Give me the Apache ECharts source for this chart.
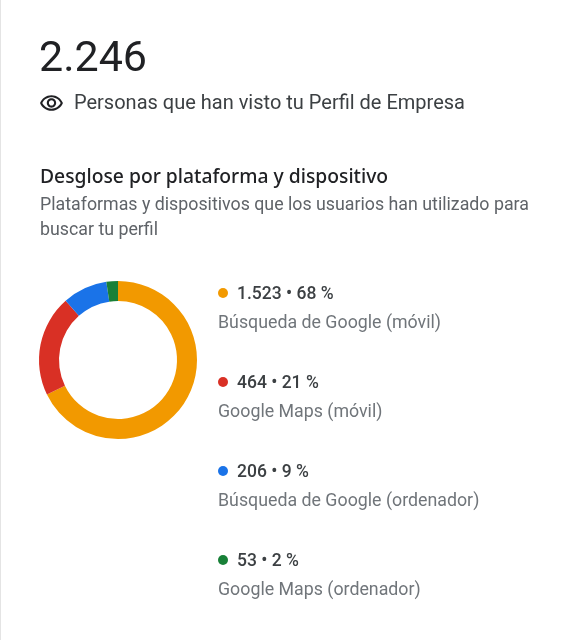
<!DOCTYPE html>
<html>
<head>
<meta charset="utf-8">
<style>html,body{margin:0;padding:0;background:#fff}</style>
<script src="https://cdn.jsdelivr.net/npm/echarts@6/dist/echarts.min.js"></script>
</head>
<body>
<div id="main" style="width:587px;height:640px;"></div>
<script type="text/javascript">
    // datos
    var categories = ['Búsqueda de Google (móvil)', 'Google Maps (móvil)', 'Búsqueda de Google (ordenador)', 'Google Maps (ordenador)'];
    var values = [1523, 464, 206, 53];
    var percents = ['68 %', '21 %', '9 %', '2 %'];
    var valueLabels = ['1.523', '464', '206', '53'];
    var colors = ['#F29900', '#D93025', '#1A73E8', '#188038'];
    var total = '2.246';

    var myChart = echarts.init(document.getElementById('main'), null, {renderer: 'canvas'});

    var eye = 'M12 6c3.79 0 7.17 2.13 8.82 5.5C19.17 14.87 15.79 17 12 17s-7.17-2.13-8.82-5.5C4.83 8.13 8.21 6 12 6m0-2C7 4 2.73 7.11 1 11.5 2.73 15.89 7 19 12 19s9.27-3.11 11-7.5C21.27 7.11 17 4 12 4zm0 5c1.38 0 2.5 1.12 2.5 2.5S13.38 14 12 14s-2.5-1.12-2.5-2.5S10.62 9 12 9m0-2c-2.48 0-4.5 2.02-4.5 4.5S9.52 16 12 16s4.5-2.02 4.5-4.5S14.48 7 12 7z';
    // el componente graphic no acepta type:'path' directamente
    echarts.graphic.registerShape('eyeIcon', echarts.graphic.extendPath(eye, {}));

    function txt(x, y, text, size, color, weight, family) {
        return {
            type: 'text', x: x, y: y, silent: true,
            style: {
                text: text, fontFamily: family || 'Roboto', fontSize: size, fontWeight: weight || 400,
                fill: color, textVerticalAlign: 'middle', textAlign: 'left'
            }
        };
    }

    var elements = [
        // borde lateral
        {type: 'rect', shape: {x: 0, y: 0, width: 1, height: 640}, style: {fill: '#e4e4e4'}},
        txt(39, 60, total, 43, '#202124'),
        {type: 'eyeIcon', x: 39, y: 91, scaleX: 1.04, scaleY: 1.04, style: {fill: '#202124'}},
        txt(74, 104, 'Personas que han visto tu Perfil de Empresa', 20, '#3c4043'),
        txt(40, 178, 'Desglose por plataforma y dispositivo', 19.3, '#202124', 500, 'Noto Sans'),
        txt(40, 206, 'Plataformas y dispositivos que los usuarios han utilizado para', 17.8, '#5f6368'),
        txt(40, 231, 'buscar tu perfil', 17.8, '#5f6368')
    ];

    // leyenda a la derecha
    var rowY = [293, 382, 471, 560];
    for (var i = 0; i < categories.length; i++) {
        elements.push({type: 'circle', shape: {cx: 223, cy: rowY[i], r: 5}, style: {fill: colors[i]}});
        elements.push(txt(237, rowY[i] + 2, valueLabels[i] + ' • ' + percents[i], 17.5, '#3c4043', 500));
        elements.push(txt(218, rowY[i] + 31, categories[i], 17.8, '#70757a'));
    }

    var pieData = [];
    for (var j = 0; j < categories.length; j++) {
        pieData.push({name: categories[j], value: values[j], itemStyle: {color: colors[j]}});
    }

    var option1 = {
        animation: false,
        backgroundColor: '#fff',
        graphic: {elements: elements},
        series: [{
            type: 'pie',
            center: [118, 360],
            radius: [59, 79],
            startAngle: 90,
            clockwise: true,
            label: {show: false},
            labelLine: {show: false},
            emphasis: {disabled: true},
            data: pieData
        }]
    };
    myChart.setOption(option1);
</script>
</body>
</html>
